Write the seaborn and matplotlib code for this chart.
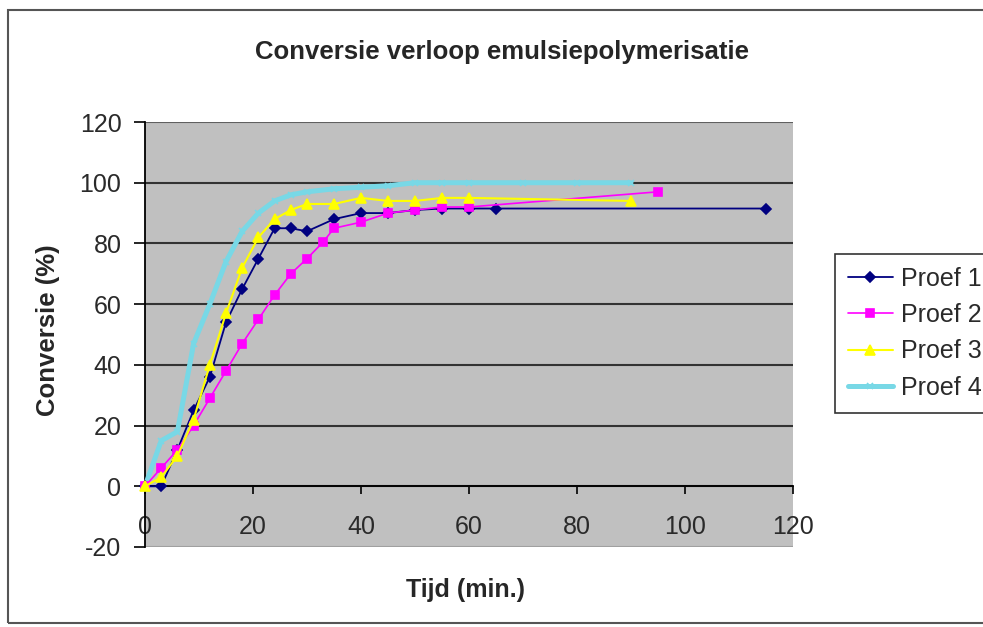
import matplotlib
matplotlib.use('Agg')
import matplotlib.pyplot as plt
import seaborn as sns
import pandas as pd
from matplotlib.patches import Rectangle

# data
tijd_1 = [0, 3, 6, 9, 12, 15, 18, 21, 24, 27, 30, 35, 40, 45, 50, 55, 60, 65, 115]
proef_1 = [0, 0, 12, 25, 36, 54, 65, 75, 85, 85, 84, 88, 90, 90, 91, 91.5, 91.5, 91.5, 91.5]

tijd_2 = [0, 3, 6, 9, 12, 15, 18, 21, 24, 27, 30, 33, 35, 40, 45, 50, 55, 60, 95]
proef_2 = [0, 6, 12, 20, 29, 38, 47, 55, 63, 70, 75, 80.5, 85, 87, 90, 91, 92, 92, 97]

tijd_3 = [0, 3, 6, 9, 12, 15, 18, 21, 24, 27, 30, 35, 40, 45, 50, 55, 60, 90]
proef_3 = [0, 3, 10, 22, 40, 57, 72, 82, 88, 91, 93, 93, 95, 94, 94, 95, 95, 94]

tijd_4 = [0, 3, 6, 9, 12, 15, 18, 21, 24, 27, 30, 35, 40, 45, 50, 55, 60, 70, 80, 90]
proef_4 = [0, 15, 18, 47, 60, 74, 84, 90, 94, 96, 97, 98, 98.5, 99, 100, 100, 100, 100, 100, 100]

namen = ['Proef 1', 'Proef 2', 'Proef 3', 'Proef 4']
x_ticks = [0, 20, 40, 60, 80, 100, 120]
y_ticks = [-20, 0, 20, 40, 60, 80, 100, 120]

df = pd.concat([
    pd.DataFrame({'tijd': tijd_1, 'conversie': proef_1, 'proef': namen[0]}),
    pd.DataFrame({'tijd': tijd_2, 'conversie': proef_2, 'proef': namen[1]}),
    pd.DataFrame({'tijd': tijd_3, 'conversie': proef_3, 'proef': namen[2]}),
    pd.DataFrame({'tijd': tijd_4, 'conversie': proef_4, 'proef': namen[3]}),
])

sns.set_style('white')
plt.rcParams['font.family'] = ['Liberation Sans', 'DejaVu Sans']
plt.rcParams['axes.unicode_minus'] = False

stijl = {
    'Proef 1': dict(color='#000080', marker='D', markersize=5, lw=1.3, zorder=4),
    'Proef 2': dict(color='#ff00ff', marker='s', markersize=5.5, lw=1.2, zorder=5),
    'Proef 3': dict(color='#ffff00', marker='^', markersize=6.5, lw=1.5, zorder=6),
    'Proef 4': dict(color='#78d8e6', marker='x', markersize=4, lw=3.6, zorder=3),
}

fig = plt.figure(figsize=(9.83, 6.27), dpi=100)
ax = fig.add_axes([145 / 983, 1 - 547 / 627, 648 / 983, 425 / 627])
ax.set_facecolor('#c0c0c0')

for naam in namen:
    s = stijl[naam]
    sub = df[df['proef'] == naam]
    sns.lineplot(data=sub, x='tijd', y='conversie', ax=ax, color=s['color'],
                 marker=s['marker'], markersize=s['markersize'], lw=s['lw'],
                 markeredgecolor=s['color'], markeredgewidth=1.2,
                 label=naam, zorder=s['zorder'], clip_on=False, sort=False)

ax.set_xlim(0, 120)
ax.set_ylim(-20, 120)
ax.set_xticks(x_ticks)
ax.set_yticks(y_ticks)
ax.yaxis.grid(True, color='#333333', lw=1.5)
ax.set_axisbelow(True)
# the bottom edge at -20 is only a faint line in the original
ax.yaxis.get_gridlines()[0].set_color('#a0a0a0')
ax.yaxis.get_gridlines()[-1].set_color('#606060')

for kant in ['top', 'right']:
    ax.spines[kant].set_visible(False)
ax.spines['bottom'].set_position(('data', 0))
ax.spines['bottom'].set_color('black')
ax.spines['bottom'].set_linewidth(1.3)
ax.spines['left'].set_color('black')
ax.spines['left'].set_linewidth(1.3)

ax.tick_params(axis='x', direction='out', length=6, width=1.2, pad=15,
               labelsize=18, labelcolor='#2a2a2a', color='black', bottom=True)
ax.tick_params(axis='y', direction='out', length=8, width=1.2, pad=9,
               labelsize=18, labelcolor='#2a2a2a', color='black', left=True)

ax.set_xlabel('Tijd (min.)', fontsize=18, fontweight='bold')
ax.xaxis.label.set_va('center')
ax.xaxis.set_label_coords((466 - 145) / 648, -(590 - 547) / 425)
ax.set_ylabel('Conversie (%)', fontsize=18.5, fontweight='bold')
ax.yaxis.label.set_va('center')
ax.yaxis.set_label_coords(-(145 - 48) / 648, (547 - 330) / 425)

fig.text(502 / 983, 1 - 52 / 627, 'Conversie verloop emulsiepolymerisatie',
         ha='center', va='center', fontsize=18.5, fontweight='bold')

handles, labels = ax.get_legend_handles_labels()
leg = ax.legend(handles, labels, loc='upper left',
                bbox_to_anchor=(835 / 983, 1 - 254 / 627),
                bbox_transform=fig.transFigure, fontsize=18,
                frameon=True, fancybox=False, edgecolor='black',
                handlelength=1.8, handletextpad=0.35, labelspacing=0.5,
                borderpad=0.5, borderaxespad=0)
leg.get_frame().set_linewidth(1.2)
for t in leg.get_texts():
    t.set_color('#2a2a2a')

fig.patches.append(Rectangle((8 / 983, 4 / 627), 1.0, 1 - 14 / 627,
                             transform=fig.transFigure, fill=False,
                             edgecolor='#555555', lw=1.5))

fig.savefig('out.png', dpi=100)
